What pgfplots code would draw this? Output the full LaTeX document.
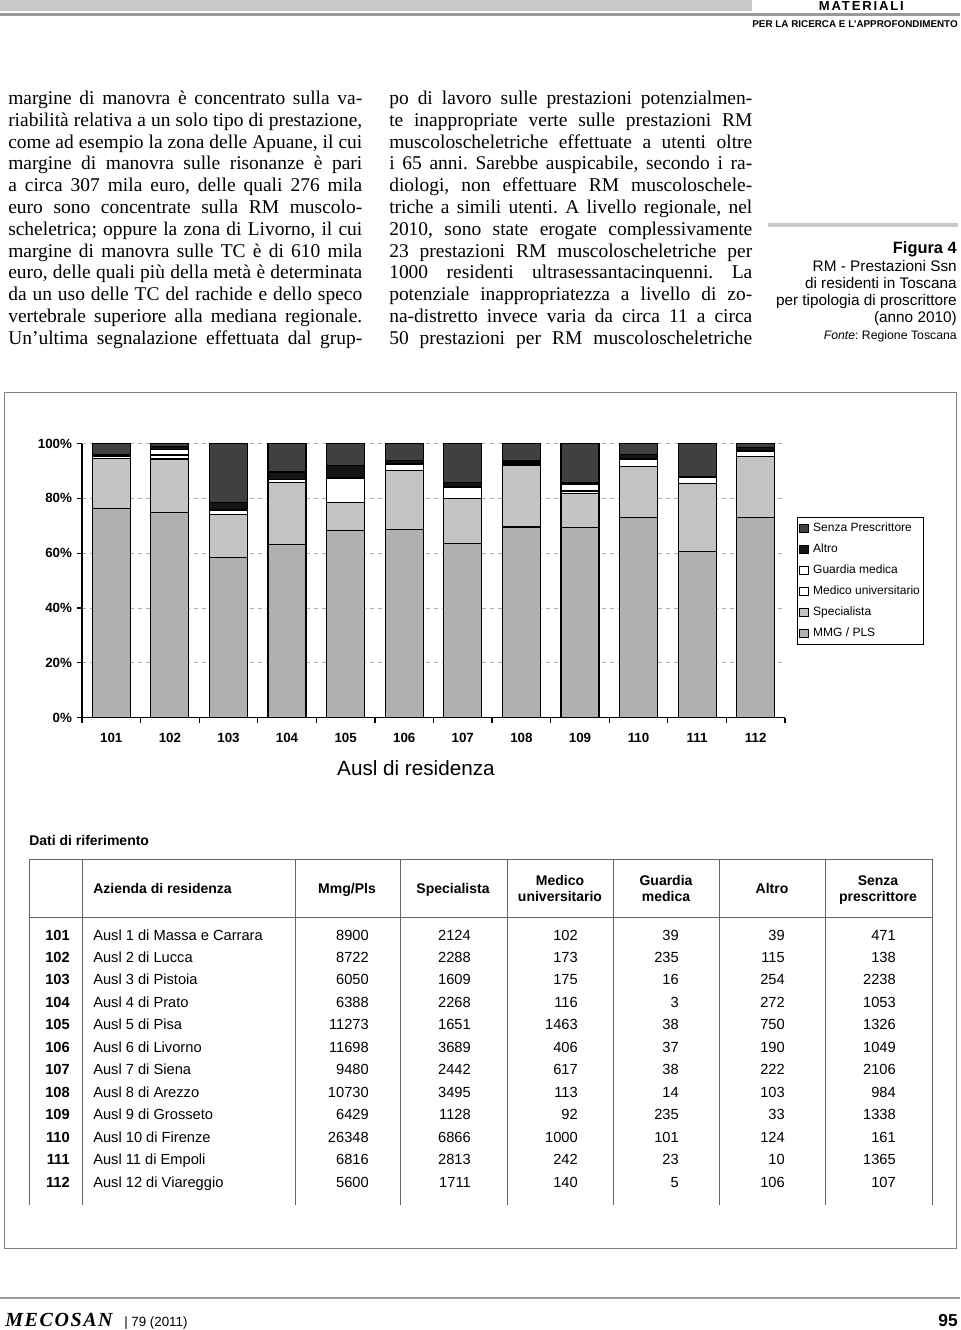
\documentclass[border=0pt]{standalone}
\usepackage{fontspec}
\setmainfont{Liberation Serif}
\setsansfont{Liberation Sans}
\usepackage{pgfplots}
\pgfplotsset{compat=1.18}
\usepackage{pgfplotstable}

\definecolor{mmgc}{HTML}{B0B0B0}
\definecolor{specc}{HTML}{C4C4C4}
\definecolor{senzac}{HTML}{404040}
\definecolor{altroc}{HTML}{141414}
\definecolor{barc}{HTML}{C8C8C8}
\definecolor{rulec}{HTML}{999999}

% shares (%) per Ausl, bottom to top of each bar
\pgfplotstableread{
x mmg spec univ guard altro senza
0 76.23 18.19 0.87 0.33 0.33 4.05
1 74.73 19.60 1.48 2.01 0.99 1.19
2 58.50 15.56 1.69 0.15 2.46 21.64
3 63.25 22.46 1.15 0.03 2.69 10.42
4 68.32 10.01 8.87 0.23 4.55 8.02
5 68.53 21.61 2.38 0.22 1.11 6.15
6 63.60 16.38 4.14 0.25 1.49 14.14
7 69.50 22.64 0.73 0.09 0.67 6.37
8 69.47 12.19 0.99 2.54 0.36 14.45
9 73.00 18.70 2.60 0.30 1.40 4.00
10 60.48 24.96 2.15 0.20 0.09 12.12
11 73.02 22.31 1.83 0.07 1.38 1.39
}\shares

\pgfplotsset{sq/.style={fill=#1, draw=black, line width=0.9pt,
  legend image code/.code={\draw[fill=#1, draw=black, line width=0.5pt] (0pt,-3.2pt) rectangle (6.4pt,3.2pt);}}}

\newcommand\col[2]{\vtop{\hsize=#1\fontsize{14.6}{16.35}\selectfont #2}}
\frenchspacing

\begin{document}
\begin{tikzpicture}[x=0.75pt, y=-0.75pt, t/.style={inner sep=0pt}]
\useasboundingbox (0,0) rectangle (960,1330);

% header
\fill[barc] (0,0) rectangle (752,11.5);
\fill[rulec] (0,13.5) rectangle (960,16);
\node[t, anchor=base east] at (904,11) {\sffamily\bfseries\fontsize{9.8}{11}\selectfont\addfontfeature{LetterSpace=14}MATERIALI};
\node[t, anchor=base east] at (958,28) {\sffamily\bfseries\fontsize{7.4}{9}\selectfont PER LA RICERCA E L’APPROFONDIMENTO};

% text columns
\node[t, anchor=base west] at (8,104.5) {\col{265.5pt}{%
\hbox to\hsize{margine di manovra è concentrato sulla va-}
\hbox to\hsize{riabilità relativa a un solo tipo di prestazione,}
\hbox to\hsize{come ad esempio la zona delle Apuane, il cui}
\hbox to\hsize{margine di manovra sulle risonanze è pari}
\hbox to\hsize{a circa 307 mila euro, delle quali 276 mila}
\hbox to\hsize{euro sono concentrate sulla RM muscolo-}
\hbox to\hsize{scheletrica; oppure la zona di Livorno, il cui}
\hbox to\hsize{margine di manovra sulle TC è di 610 mila}
\hbox to\hsize{euro, delle quali più della metà è determinata}
\hbox to\hsize{da un uso delle TC del rachide e dello speco}
\hbox to\hsize{vertebrale superiore alla mediana regionale.}
\hbox to\hsize{Un’ultima segnalazione effettuata dal grup-}}};

\node[t, anchor=base west] at (389,104.5) {\col{272.25pt}{%
\hbox to\hsize{po di lavoro sulle prestazioni potenzialmen-}
\hbox to\hsize{te inappropriate verte sulle prestazioni RM}
\hbox to\hsize{muscoloscheletriche effettuate a utenti oltre}
\hbox to\hsize{i 65 anni. Sarebbe auspicabile, secondo i ra-}
\hbox to\hsize{diologi, non effettuare RM muscoloschele-}
\hbox to\hsize{triche a simili utenti. A livello regionale, nel}
\hbox to\hsize{2010, sono state erogate complessivamente}
\hbox to\hsize{23 prestazioni RM muscoloscheletriche per}
\hbox to\hsize{1000 residenti ultrasessantacinquenni. La}
\hbox to\hsize{potenziale inappropriatezza a livello di zo-}
\hbox to\hsize{na-distretto invece varia da circa 11 a circa}
\hbox to\hsize{50 prestazioni per RM muscoloscheletriche}}};

% caption
\fill[barc] (768,223) rectangle (958,227);
\node[t, anchor=base east] at (957,253.5) {\sffamily\bfseries\fontsize{12.3}{14}\selectfont Figura 4};
\begin{scope}[every node/.append style={font=\sffamily\fontsize{11.5}{13}\selectfont}]
\node[t, anchor=base east] at (957,271) {RM - Prestazioni Ssn};
\node[t, anchor=base east] at (957,288) {di residenti in Toscana};
\node[t, anchor=base east] at (957,305) {per tipologia di proscrittore};
\node[t, anchor=base east] at (957,322) {(anno 2010)};
\end{scope}
\node[t, anchor=base east] at (957,339) {\sffamily\fontsize{9.2}{11}\selectfont\textit{Fonte}: Regione Toscana};

% frame around chart and table
\draw[gray, line width=0.75pt] (4,392) rectangle (956,1248);

\coordinate (axsw) at (82,717.5);
\begin{axis}[
  at={(axsw)}, anchor=south west, scale only axis,
  width=527.25pt, height=205.5pt,
  ybar stacked, bar width=28.5pt,
  xmin=-0.5, xmax=11.5, ymin=0, ymax=100,
  axis x line*=bottom, axis y line*=left,
  axis line style={black, line width=0.9pt},
  tick align=outside, major tick length=4pt,
  tick style={black, line width=0.9pt},
  xtick={-0.5,0.5,...,11.5}, xticklabels={},
  extra x ticks={0,1,...,11},
  extra x tick labels={101,102,103,104,105,106,107,108,109,110,111,112},
  extra x tick style={major tick length=0pt},
  xticklabel style={yshift=-8pt},
  ytick={0,20,...,100},
  yticklabels={0\%,20\%,40\%,60\%,80\%,100\%},
  ymajorgrids, grid style={gray!60, line width=0.6pt, dash pattern=on 3pt off 3pt},
  tick label style={font=\sffamily\bfseries\fontsize{10}{12}\selectfont},
  /pgf/number format/assume math mode=true,
  xlabel={Ausl di residenza},
  xlabel style={at={(axis description cs:0.475,-0.186)}, anchor=center, font=\sffamily\fontsize{15.5}{18}\selectfont},
  legend style={at={(axis description cs:1.017,0.730)}, anchor=north west, draw=black, line width=0.6pt, fill=white,
    font=\sffamily\fontsize{9}{11}\selectfont, inner xsep=1.5pt, inner ysep=2.4pt, row sep=4.75pt,
    nodes={inner sep=1pt, text height=7pt, text depth=2pt},
    /tikz/every odd column/.append style={column sep=2.5pt}},
  legend cell align=left,
  reverse legend,
]
\addplot[sq=mmgc] table[x=x, y=mmg] {\shares};
\addlegendentry{MMG / PLS}
\addplot[sq=specc] table[x=x, y=spec] {\shares};
\addlegendentry{Specialista}
\addplot[sq=white] table[x=x, y=univ] {\shares};
\addlegendentry{Medico universitario}
\addplot[sq=white] table[x=x, y=guard] {\shares};
\addlegendentry{Guardia medica}
\addplot[sq=altroc] table[x=x, y=altro] {\shares};
\addlegendentry{Altro}
\addplot[sq=senzac] table[x=x, y=senza] {\shares};
\addlegendentry{Senza Prescrittore}
\end{axis}

% reference table
\node[t, anchor=base west] at (29,845) {\sffamily\bfseries\fontsize{10.5}{12}\selectfont Dati di riferimento};
\draw[gray!80!black, line width=0.6pt] (29,859) -- (932,859) (29,917) -- (932,917);
\foreach \xx in {29,82,295,400,507,613,719,825,932}
  \draw[gray!80!black, line width=0.6pt] (\xx,859) -- (\xx,1205);
\begin{scope}[every node/.append style={font=\sffamily\bfseries\fontsize{10.5}{12}\selectfont}]
\node[t, anchor=base west] at (93,893) {Azienda di residenza};
\node[t, anchor=base] at (347,893) {Mmg/Pls};
\node[t, anchor=base] at (453,893) {Specialista};
\node[t, anchor=base] at (560,885) {Medico};
\node[t, anchor=base] at (560,901) {universitario};
\node[t, anchor=base] at (666,885) {Guardia};
\node[t, anchor=base] at (666,901) {medica};
\node[t, anchor=base] at (772,893) {Altro};
\node[t, anchor=base] at (878,885) {Senza};
\node[t, anchor=base] at (878,901) {prescrittore};
\end{scope}
\begin{scope}[every node/.append style={font=\sffamily\fontsize{11}{13}\selectfont}]
\foreach \ri/\rc/\rn/\va/\vb/\vc/\vd/\ve/\vf in {
  0/101/Ausl 1 di Massa e Carrara/8900/2124/102/39/39/471,
  1/102/Ausl 2 di Lucca/8722/2288/173/235/115/138,
  2/103/Ausl 3 di Pistoia/6050/1609/175/16/254/2238,
  3/104/Ausl 4 di Prato/6388/2268/116/3/272/1053,
  4/105/Ausl 5 di Pisa/11273/1651/1463/38/750/1326,
  5/106/Ausl 6 di Livorno/11698/3689/406/37/190/1049,
  6/107/Ausl 7 di Siena/9480/2442/617/38/222/2106,
  7/108/Ausl 8 di Arezzo/10730/3495/113/14/103/984,
  8/109/Ausl 9 di Grosseto/6429/1128/92/235/33/1338,
  9/110/Ausl 10 di Firenze/26348/6866/1000/101/124/161,
  10/111/Ausl 11 di Empoli/6816/2813/242/23/10/1365,
  11/112/Ausl 12 di Viareggio/5600/1711/140/5/106/107}{
  \pgfmathsetmacro\yy{940+22.48*\ri}
  \node[t, anchor=base east] at (70,\yy) {\bfseries\rc};
  \node[t, anchor=base west] at (93,\yy) {\rn};
  \node[t, anchor=base east] at (369,\yy) {\va};
  \node[t, anchor=base east] at (471,\yy) {\vb};
  \node[t, anchor=base east] at (578,\yy) {\vc};
  \node[t, anchor=base east] at (679,\yy) {\vd};
  \node[t, anchor=base east] at (785,\yy) {\ve};
  \node[t, anchor=base east] at (896,\yy) {\vf};
}
\end{scope}

% footer
\draw[rulec, line width=1.2pt] (0,1298) -- (960,1298);
\node[t, anchor=base west] at (5,1326) {\fontsize{15}{17}\selectfont\bfseries\itshape\addfontfeature{LetterSpace=8}MECOSAN};
\node[t, anchor=base west] at (124,1326) {\sffamily\fontsize{10}{12}\selectfont | 79 (2011)};
\node[t, anchor=base east] at (958,1326) {\sffamily\bfseries\fontsize{13}{15}\selectfont 95};
\end{tikzpicture}
\end{document}
